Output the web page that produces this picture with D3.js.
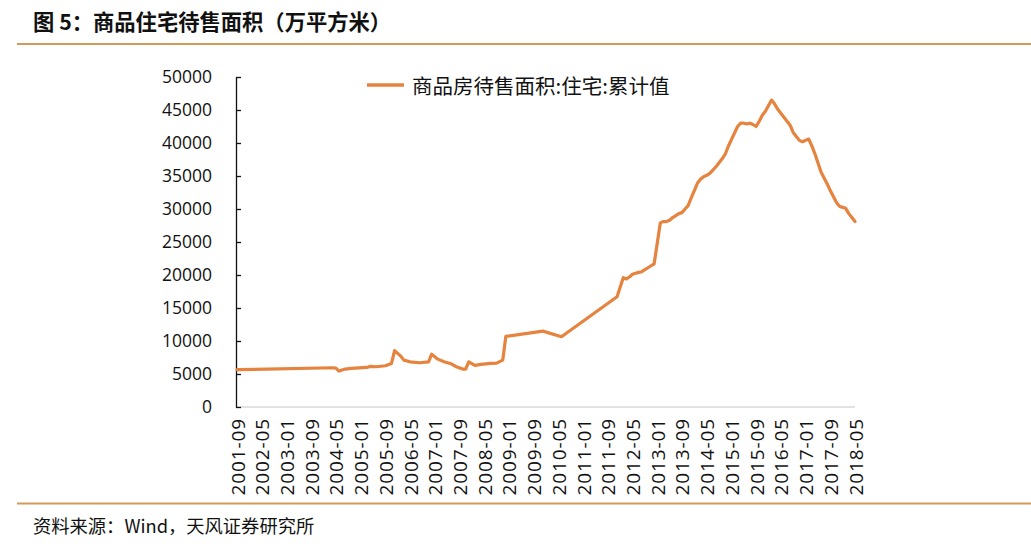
<!DOCTYPE html>
<html>
<head>
<meta charset="utf-8">
<script src="https://cdn.jsdelivr.net/npm/d3@7"></script>
<style>
  html, body { margin: 0; padding: 0; background: #ffffff; }
  svg { display: block; }
</style>
</head>
<body>
<svg id="chart" width="1031" height="549"></svg>
<script>
// ---------------- data ----------------
const titleText = "图 5：商品住宅待售面积（万平方米）";
const sourceText = "资料来源：Wind，天风证券研究所";
const seriesName = "商品房待售面积:住宅:累计值";

const yTicks = [0, 5000, 10000, 15000, 20000, 25000, 30000, 35000, 40000, 45000, 50000];
const firstMonth = "2001-09";
const lastMonth = "2018-05";
const xLabelStep = 8;

const dates = [
  "2001-09", "2004-04", "2004-05", "2004-06", "2004-08", "2004-10", "2005-03", "2005-04",
  "2005-06", "2005-09", "2005-11", "2005-12", "2006-02", "2006-03", "2006-05", "2006-08",
  "2006-11", "2006-12", "2007-02", "2007-04", "2007-06", "2007-08", "2007-10", "2007-11",
  "2007-12", "2008-02", "2008-04", "2008-07", "2008-09", "2008-11", "2008-12", "2009-12",
  "2010-06", "2011-12", "2012-02", "2012-03", "2012-04", "2012-05", "2012-06", "2012-07",
  "2012-08", "2012-09", "2012-10", "2012-11", "2012-12", "2013-02", "2013-03", "2013-04",
  "2013-05", "2013-06", "2013-07", "2013-08", "2013-09", "2013-10", "2013-11", "2013-12",
  "2014-02", "2014-03", "2014-04", "2014-05", "2014-06", "2014-07", "2014-08", "2014-09",
  "2014-10", "2014-11", "2014-12", "2015-02", "2015-03", "2015-04", "2015-05", "2015-06",
  "2015-07", "2015-08", "2015-09", "2015-10", "2015-11", "2015-12", "2016-02", "2016-03",
  "2016-04", "2016-05", "2016-06", "2016-07", "2016-08", "2016-09", "2016-10", "2016-11",
  "2016-12", "2017-02", "2017-03", "2017-04", "2017-05", "2017-06", "2017-07", "2017-08",
  "2017-09", "2017-10", "2017-11", "2017-12", "2018-02", "2018-03", "2018-04", "2018-05"
];
const values = [
  5650, 5950, 5900, 5450, 5750, 5850, 6000, 6150,
  6100, 6250, 6600, 8550, 7700, 7100, 6850, 6700,
  6850, 8000, 7250, 6850, 6600, 6100, 5750, 5750,
  6850, 6300, 6450, 6600, 6650, 7100, 10700, 11500,
  10650, 16700, 19600, 19400, 19700, 20100, 20250, 20400,
  20500, 20800, 21100, 21400, 21700, 27900, 28100, 28100,
  28300, 28700, 29000, 29300, 29450, 30000, 30500, 31700,
  33900, 34500, 34900, 35100, 35400, 35900, 36400, 37000,
  37600, 38300, 39500, 41500, 42500, 43000, 43000, 42900,
  43000, 42800, 42500, 43300, 44200, 44800, 46500, 45900,
  45100, 44500, 43900, 43300, 42700, 41600, 41000, 40400,
  40200, 40600, 39600, 38400, 37000, 35600, 34700, 33800,
  32800, 31900, 31000, 30400, 30100, 29300, 28700, 28100
];

// ---------------- helpers ----------------
function monthList(a, b) {
  const out = [];
  let [y, m] = a.split("-").map(Number);
  const [yb, mb] = b.split("-").map(Number);
  while (y < yb || (y === yb && m <= mb)) {
    out.push(y + "-" + String(m).padStart(2, "0"));
    m++; if (m > 12) { m = 1; y++; }
  }
  return out;
}
const months = monthList(firstMonth, lastMonth);
const xLabels = months.filter((d, i) => i % xLabelStep === 0);
const points = dates.map((d, i) => ({ date: d, value: values[i] }));

// ---------------- drawing ----------------
const svg = d3.select("#chart");
const ACCENT = "#d49a5a";
const LINE = "#e5833f";
const CJK = "'Noto Sans CJK SC', 'Noto Sans', sans-serif";
const NUM = "'Open Sans', 'Noto Sans', sans-serif";

const x = d3.scalePoint().domain(months).range([237, 855]);
const y = d3.scaleLinear().domain([0, 50000]).range([407, 77]);

// title
svg.append("text")
  .attr("x", 33).attr("y", 30)
  .attr("font-family", CJK).attr("font-size", 21.3).attr("font-weight", "bold")
  .attr("fill", "#111")
  .text(titleText);
svg.append("line")
  .attr("x1", 17).attr("x2", 1031).attr("y1", 44).attr("y2", 44)
  .attr("stroke", ACCENT).attr("stroke-width", 2);

// bottom rule + source
svg.append("line")
  .attr("x1", 17).attr("x2", 1031).attr("y1", 503.5).attr("y2", 503.5)
  .attr("stroke", ACCENT).attr("stroke-width", 2);
svg.append("text")
  .attr("x", 33).attr("y", 533)
  .attr("font-family", CJK).attr("font-size", 18.3)
  .attr("fill", "#111")
  .text(sourceText);

// x axis (light gray baseline, rotated labels)
const xAxis = d3.axisBottom(x).tickValues(xLabels).tickSize(0).tickPadding(0);
const gx = svg.append("g").attr("transform", "translate(0,407)").call(xAxis);
gx.select(".domain").attr("stroke", "#d9d9d9").attr("stroke-width", 1.5)
  .attr("d", "M236,0H855");
gx.selectAll("text")
  .attr("font-family", NUM).attr("font-size", 19).attr("fill", "#111")
  .attr("letter-spacing", "0.9px")
  .attr("text-anchor", "end")
  .attr("dy", null)
  .attr("transform", "translate(0,11) rotate(-90)")
  .attr("x", 0).attr("y", 0)
  .attr("dominant-baseline", "central");

// y axis
const yAxis = d3.axisLeft(y).tickValues(yTicks).tickSize(0).tickPadding(0).tickFormat(d => String(d));
const gy = svg.append("g").attr("transform", "translate(236,0)").call(yAxis);
gy.select(".domain").attr("stroke", "#111").attr("stroke-width", 1.3);
gy.selectAll(".tick line").attr("x2", 5).attr("stroke", "#111").attr("stroke-width", 1.3);
gy.selectAll(".tick text")
  .attr("x", -24)
  .attr("font-family", NUM).attr("font-size", 17.5).attr("fill", "#111");

// series line
const line = d3.line()
  .x(d => x(d.date))
  .y(d => y(d.value));
svg.append("path")
  .datum(points)
  .attr("d", line)
  .attr("fill", "none")
  .attr("stroke", LINE)
  .attr("stroke-width", 3.2)
  .attr("stroke-linejoin", "round")
  .attr("stroke-linecap", "round");

// legend
svg.append("line")
  .attr("x1", 367).attr("x2", 404).attr("y1", 85).attr("y2", 85)
  .attr("stroke", LINE).attr("stroke-width", 3.5);
svg.append("text")
  .attr("x", 412).attr("y", 85)
  .attr("dominant-baseline", "central")
  .attr("font-family", CJK).attr("font-size", 20.5).attr("fill", "#111")
  .text(seriesName);
</script>
</body>
</html>
